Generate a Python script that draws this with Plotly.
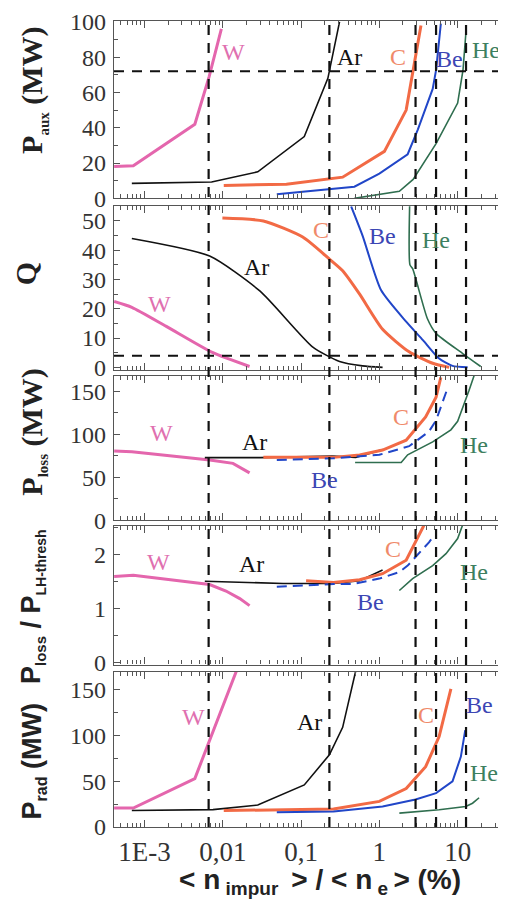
import numpy as np
import plotly.graph_objects as go

# ---------------- data (x = <n_impur>/<n_e> in %) ----------------
# Panel 1: P_aux (MW)
W_aux_x = [4.1e-4, 7.2e-4, 0.0044, 0.0067, 0.0096]
W_aux_y = [18, 18.5, 42, 69, 96]
Ar_aux_x = [6.9e-4, 0.0072, 0.028, 0.11, 0.22, 0.31]
Ar_aux_y = [8.5, 9.3, 15, 35, 68, 100]
C_aux_x = [0.0103, 0.065, 0.34, 1.16, 2.2, 2.7, 3.4]
C_aux_y = [7.3, 8, 12, 26.6, 50, 73, 98]
Be_aux_x = [0.049, 0.48, 1.0, 2.3, 3.1, 4.8, 5.3, 6.1]
Be_aux_y = [2.3, 6.6, 14, 25, 39, 62, 72.6, 99]
He_aux_x = [0.48, 1.8, 2.7, 5.3, 10, 11.7, 12.7]
He_aux_y = [0, 4, 10.7, 31, 54, 72.6, 93]

# Panel 2: Q
W_Q_x = [4.1e-4, 6.9e-4, 0.0019, 0.0075, 0.022]
W_Q_y = [22.5, 20.5, 14, 5, 0.3]
Ar_Q_x = [6.9e-4, 0.0068, 0.03, 0.14, 0.31, 0.61, 1.1]
Ar_Q_y = [44, 38, 26, 7, 2, 0.5, 0]
C_Q_x = [0.0099, 0.033, 0.105, 0.23, 0.34, 0.56, 1.1, 2.4, 4.8, 7.8]
C_Q_y = [51, 50, 44.5, 37, 33, 25, 13, 5.3, 1.4, 0]
Be_Q_x = [0.436, 0.61, 1.05, 2.2, 3.6, 5.8, 8.6, 13.4]
Be_Q_y = [55, 45, 26.4, 15.6, 9.3, 3, 0.5, 0]
He_Q_x = [2.44, 2.46, 2.66, 4.1, 5.3, 11.5, 19.7]
He_Q_y = [56, 35, 33.7, 16.7, 11.6, 4.8, 0.3]

# Panel 3: P_loss (MW)
W_loss_x = [4.1e-4, 6.9e-4, 0.0068, 0.0135, 0.022]
W_loss_y = [80.5, 79.5, 70, 66, 55]
Ar_loss_x = [0.0059, 0.03, 0.25, 0.5, 1.1]
Ar_loss_y = [72.7, 72.7, 74.5, 73, 82]
C_loss_x = [0.033, 0.26, 0.56, 1.1, 2.2, 3.9, 5.3, 6.1]
C_loss_y = [73, 73, 75.8, 81.5, 93, 120, 143, 166]
Be_loss_x = [0.049, 0.26, 1.0, 2.0, 2.4, 4.3, 5.3, 7.4]
Be_loss_y = [70, 72, 76, 83.5, 86, 103, 116, 153]
He_loss_x = [0.49, 1.9, 2.3, 4.8, 8.2, 10, 14, 16.2]
He_loss_y = [67, 67, 76, 91, 105, 115, 151, 168]

# Panel 4: P_loss / P_LH-thresh
W_ratio_x = [4.1e-4, 7.2e-4, 0.0068, 0.011, 0.0165, 0.022]
W_ratio_y = [1.6, 1.62, 1.45, 1.33, 1.19, 1.06]
Ar_ratio_x = [0.0059, 0.03, 0.059, 0.26, 0.56, 1.1]
Ar_ratio_y = [1.51, 1.49, 1.47, 1.47, 1.52, 1.72]
C_ratio_x = [0.116, 0.26, 0.56, 1.1, 2.2, 2.9, 3.7]
C_ratio_y = [1.52, 1.49, 1.54, 1.65, 1.9, 2.23, 2.54]
Be_ratio_x = [0.049, 0.26, 0.46, 1.0, 1.8, 2.3, 4.3, 5.0]
Be_ratio_y = [1.41, 1.46, 1.46, 1.56, 1.68, 1.8, 2.23, 2.36]
He_ratio_x = [1.8, 2.66, 4.8, 7.1, 10, 11.5]
He_ratio_y = [1.34, 1.56, 1.8, 2.02, 2.3, 2.54]

# Panel 5: P_rad (MW)
W_rad_x = [4.1e-4, 7.2e-4, 0.0044, 0.0075, 0.015]
W_rad_y = [20.7, 20.7, 53, 104, 171]
Ar_rad_x = [6.9e-4, 0.0075, 0.028, 0.11, 0.23, 0.34, 0.5]
Ar_rad_y = [18, 19, 24, 46, 79, 109, 171]
C_rad_x = [0.0103, 0.26, 1.0, 2.2, 3.9, 5.8, 8.2]
C_rad_y = [18, 19.6, 28, 42, 66, 99, 151]
Be_rad_x = [0.049, 0.26, 1.1, 2.9, 5.3, 8.6, 11, 12.5]
Be_rad_y = [16, 17, 22.5, 30, 37, 50, 77, 106]
He_rad_x = [1.8, 3.2, 5.8, 12.7, 15.5, 18.8]
He_rad_y = [15.2, 17, 18.8, 22.5, 26, 32]

# reference lines
vlines_x = [0.0066, 0.23, 2.9, 5.3, 12.8]
hline_aux = 72
hline_Q = 4

# x tick labels
x_tickvals = [1e-3, 1e-2, 1e-1, 1, 10]
x_ticktext = ["1E-3", "0,01", "0,1", "1", "10"]

# curve label positions: (text, x, y) per panel
labels_aux = [("W", 0.0138, 83), ("Ar", 0.415, 80), ("C", 1.75, 80), ("Be", 7.8, 79), ("He", 22.9, 84)]
labels_Q = [("W", 0.00157, 21.8), ("Ar", 0.0269, 34.3), ("C", 0.18, 46.8), ("Be", 1.1, 45), ("He", 5.3, 43.4)]
labels_loss = [("W", 0.00165, 101), ("Ar", 0.0256, 91), ("Be", 0.2, 47), ("C", 1.89, 120), ("He", 16.2, 87)]
labels_ratio = [("W", 0.0015, 1.86), ("Ar", 0.0232, 1.83), ("C", 1.48, 2.11), ("Be", 0.78, 1.12), ("He", 16.2, 1.68)]
labels_rad = [("W", 0.0042, 120), ("Ar", 0.128, 115), ("C", 3.93, 122), ("Be", 18.8, 133), ("He", 21.7, 59)]

# ---------------- styling ----------------
line_col = {"W": "#e466ad", "Ar": "#111111", "C": "#f26a45", "Be": "#2146c8", "He": "#2f6e4f"}
label_col = {"W": "#e070b0", "Ar": "#111111", "C": "#f08a6a", "Be": "#3c46b4", "He": "#3d7f60"}
line_w = {"W": 3, "Ar": 1.6, "C": 3, "Be": 2, "He": 1.6}

# page places the figure 8px in from the top-left corner; work in screen pixels
OFF = 8
W_PX, H_PX = 506 - OFF, 904 - OFF
PLOT_L, PLOT_R, PLOT_T, PLOT_B = 114, 505, 18, 827  # screen pixels of plot area
ML, MR, MT, MB = PLOT_L - OFF, W_PX - (PLOT_R - OFF), PLOT_T - OFF, H_PX - (PLOT_B - OFF)
PH = PLOT_B - PLOT_T
PW = PLOT_R - PLOT_L


def py(px):
    return (PLOT_B - px) / PH


def dom(top_px, bot_px):
    return [py(bot_px), py(top_px)]


def pxx(px):
    return (px - PLOT_L) / PW


panels = [
    dict(series={"W": (W_aux_x, W_aux_y), "Ar": (Ar_aux_x, Ar_aux_y), "C": (C_aux_x, C_aux_y),
                 "Be": (Be_aux_x, Be_aux_y), "He": (He_aux_x, He_aux_y)},
         dash_be=False, dom=dom(18, 196), rng=[0, 100.5], tv=[0, 20, 40, 60, 80, 100], mdt=10,
         labels=labels_aux, shape="linear"),
    dict(series={"W": (W_Q_x, W_Q_y), "Ar": (Ar_Q_x, Ar_Q_y), "C": (C_Q_x, C_Q_y),
                 "Be": (Be_Q_x, Be_Q_y), "He": (He_Q_x, He_Q_y)},
         dash_be=False, dom=dom(204, 368), rng=[-0.8, 55], tv=[0, 10, 20, 30, 40, 50], mdt=5,
         labels=labels_Q, shape="spline"),
    dict(series={"W": (W_loss_x, W_loss_y), "Ar": (Ar_loss_x, Ar_loss_y), "C": (C_loss_x, C_loss_y),
                 "Be": (Be_loss_x, Be_loss_y), "He": (He_loss_x, He_loss_y)},
         dash_be=True, dom=dom(374, 519), rng=[0, 168], tv=[0, 50, 100, 150], mdt=25,
         labels=labels_loss, shape="linear"),
    dict(series={"W": (W_ratio_x, W_ratio_y), "Ar": (Ar_ratio_x, Ar_ratio_y), "C": (C_ratio_x, C_ratio_y),
                 "Be": (Be_ratio_x, Be_ratio_y), "He": (He_ratio_x, He_ratio_y)},
         dash_be=True, dom=dom(525, 664), rng=[-0.03, 2.53], tv=[0, 1, 2], mdt=0.5,
         labels=labels_ratio, shape="linear"),
    dict(series={"W": (W_rad_x, W_rad_y), "Ar": (Ar_rad_x, Ar_rad_y), "C": (C_rad_x, C_rad_y),
                 "Be": (Be_rad_x, Be_rad_y), "He": (He_rad_x, He_rad_y)},
         dash_be=False, dom=dom(671, 827), rng=[0, 170], tv=[0, 50, 100, 150], mdt=25,
         labels=labels_rad, shape="linear"),
]

minor_x = [m * 10.0 ** k for k in range(-4, 2) for m in range(2, 10)]
AX_COL = "#555555"
SERIF = "Liberation Serif, Times New Roman, serif"
SANS = "Liberation Sans, Arial, sans-serif"
TICK_FONT = dict(family=SERIF, size=24, color="#333333")

fig = go.Figure()
layout = {}
annotations = []
shapes = []

for i, p in enumerate(panels, start=1):
    xa = "x" if i == 1 else f"x{i}"
    ya = "y" if i == 1 else f"y{i}"
    for name in ["W", "Ar", "C", "Be", "He"]:
        xs, ys = p["series"][name]
        dash = "solid"
        if name == "Be" and p["dash_be"]:
            dash = "10px,6px"
        fig.add_trace(go.Scatter(x=xs, y=ys, mode="lines", xaxis=xa, yaxis=ya,
                                 line=dict(color=line_col[name], width=line_w[name], dash=dash,
                                           shape=p["shape"], smoothing=0.6),
                                 showlegend=False, cliponaxis=True))
    for (t, lx, ly) in p["labels"]:
        annotations.append(dict(x=np.log10(lx), y=ly, xref=xa, yref=ya, text=t, showarrow=False,
                                font=dict(family=SERIF, size=24, color=label_col[t]),
                                xanchor="center", yanchor="middle"))
    layout[f"xaxis{'' if i == 1 else i}"] = dict(
        type="log", range=[-3.389, 1.592], domain=[0, 1], anchor=ya,
        tickmode="array", tickvals=x_tickvals, ticktext=x_ticktext,
        showticklabels=(i == 5), ticks="inside", ticklen=7, tickwidth=1.2, tickcolor=AX_COL,
        minor=dict(tickmode="array", tickvals=minor_x, ticks="inside", ticklen=4,
                   tickwidth=1, tickcolor=AX_COL),
        showline=True, linecolor=AX_COL, linewidth=1.3, mirror="allticks",
        showgrid=False, zeroline=False, ticklabeloverflow="allow",
        tickfont=dict(family=SERIF, size=27, color="#333333"),
    )
    layout[f"yaxis{'' if i == 1 else i}"] = dict(
        domain=p["dom"], range=p["rng"], anchor=xa,
        tickmode="array", tickvals=p["tv"], ticks="inside", ticklen=6, tickwidth=1.2, tickcolor=AX_COL,
        minor=dict(dtick=p["mdt"], tick0=0, ticks="inside", ticklen=4, tickwidth=1, tickcolor=AX_COL),
        showline=True, linecolor=AX_COL, linewidth=1.3, mirror="allticks",
        showgrid=False, zeroline=False, tickfont=TICK_FONT, ticklabelstandoff=2,
        ticklabeloverflow="allow",
    )

# vertical dashed reference lines (span all panels)
for vx in vlines_x:
    shapes.append(dict(type="line", xref="x", yref="paper", x0=vx, x1=vx, y0=0, y1=1,
                       line=dict(color="#111111", width=2.2, dash="10px,8px"), layer="above"))
# horizontal dashed reference lines
shapes.append(dict(type="line", xref="paper", yref="y", x0=0, x1=1, y0=hline_aux, y1=hline_aux,
                   line=dict(color="#111111", width=2, dash="10px,8px"), layer="above"))
shapes.append(dict(type="line", xref="paper", yref="y2", x0=0, x1=1, y0=hline_Q, y1=hline_Q,
                   line=dict(color="#111111", width=2, dash="10px,8px"), layer="above"))

SERIF_B = dict(family=SERIF, size=30, color="#222222")
SANS_B = dict(family=SANS, size=27, color="#222222")


def sub(t, size):
    return f"<sub><span style='font-size:{size}px'>{t}</span></sub>"


ytitles = [
    (f"<b>P{sub('aux', 15)} (MW)</b>", 88, 33, SERIF_B),
    ("<b>Q</b>", 272, 25, SERIF_B),
    (f"<b>P{sub('loss', 15)} (MW)</b>", 431, 33, SERIF_B),
    (f"<b>P{sub('loss', 15)} / P{sub('LH-thresh', 14)}</b>", 606, 33, SANS_B),
    (f"<b>P{sub('rad', 16)} (MW)</b>", 761, 33, SANS_B),
]
for txt, ypx, xpx, fnt in ytitles:
    annotations.append(dict(x=pxx(xpx), y=py(ypx), xref="paper", yref="paper", text=txt,
                            textangle=-90, showarrow=False, font=fnt,
                            xanchor="center", yanchor="middle"))

annotations.append(dict(x=pxx(321), y=py(862), xref="paper", yref="paper",
                        text="<b>&lt; n" + sub("&#160;impur&#160;", 19) + " &gt; / &lt; n"
                             + sub("&#160;e&#160;", 19) + "&gt; (%)</b>",
                        showarrow=False, font=dict(family=SANS, size=28, color="#222222"),
                        xanchor="center", yanchor="top"))

fig.update_layout(
    width=W_PX, height=H_PX,
    margin=dict(l=ML, r=MR, t=MT, b=MB),
    paper_bgcolor="white", plot_bgcolor="rgba(0,0,0,0)",
    showlegend=False,
    annotations=annotations, shapes=shapes,
    **layout,
)

fig.write_html("out.html")
